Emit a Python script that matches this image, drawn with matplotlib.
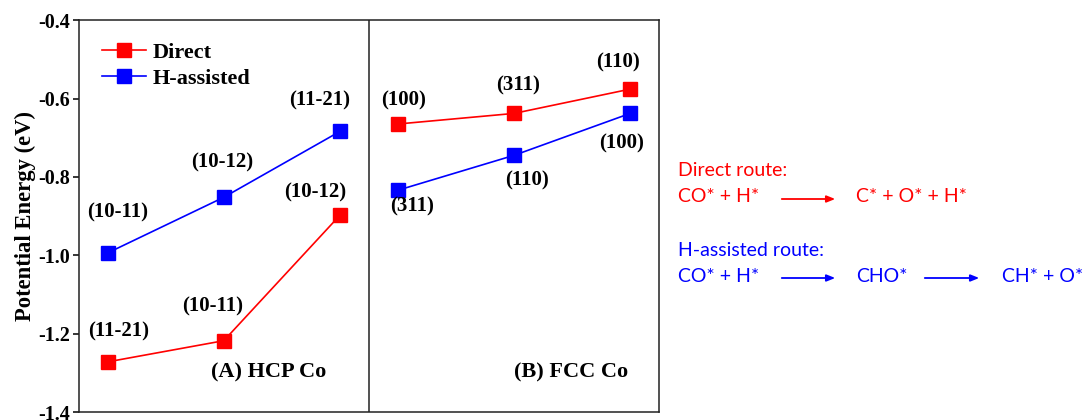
import matplotlib
matplotlib.use("Agg")
import matplotlib.pyplot as plt

# ---------------------------------------------------------------------------
# Data
# ---------------------------------------------------------------------------
hcp_x = [0.25, 1.25, 2.25]
fcc_x = [2.75, 3.75, 4.75]

hcp_direct = [-1.272, -1.218, -0.898]
hcp_hassist = [-0.994, -0.852, -0.684]
fcc_direct = [-0.665, -0.638, -0.576]
fcc_hassist = [-0.834, -0.745, -0.638]

hcp_direct_labels = ["(11-21)", "(10-11)", "(10-12)"]
hcp_hassist_labels = ["(10-11)", "(10-12)", "(11-21)"]
fcc_direct_labels = ["(100)", "(311)", "(110)"]
fcc_hassist_labels = ["(311)", "(110)", "(100)"]

yticks = [-0.4, -0.6, -0.8, -1.0, -1.2, -1.4]

RED = "#ff0000"
BLUE = "#0000ff"
SERIF = ["Liberation Serif", "DejaVu Serif"]

fig = plt.figure(figsize=(10.85, 4.2), dpi=100)
ax = fig.add_axes([0.0725, 0.019, 0.535, 0.933])

ax.plot(hcp_x, hcp_direct, "-s", color=RED, lw=1.2, ms=9.5, label="Direct")
ax.plot(hcp_x, hcp_hassist, "-s", color=BLUE, lw=1.2, ms=9.5, label="H-assisted")
ax.plot(fcc_x, fcc_direct, "-s", color=RED, lw=1.2, ms=9.5)
ax.plot(fcc_x, fcc_hassist, "-s", color=BLUE, lw=1.2, ms=9.5)

ax.axvline(2.5, color="#222222", lw=1.1)

ax.set_xlim(0, 5)
ax.set_ylim(-1.4, -0.4)
ax.set_xticks([])
ax.set_yticks(yticks)
ax.set_yticklabels([f"{v:.1f}" for v in yticks], fontfamily=SERIF,
                   fontweight="bold", fontsize=14.5)
ax.tick_params(axis="y", direction="out", length=4, width=1.1, pad=2)
for sp in ax.spines.values():
    sp.set_linewidth(1.1)
    sp.set_color("#222222")
ax.set_ylabel("Potential Energy (eV)", fontfamily=SERIF, fontweight="bold",
              fontsize=16.3, labelpad=2)

# point labels: (dx, dy) offsets in points
lab_kw = dict(fontfamily=SERIF, fontweight="bold", fontsize=15,
              ha="center", va="center", textcoords="offset points")
hcp_d_off = [(8, 22), (-8, 24.5), (-18, 16.5)]
hcp_h_off = [(7, 29), (-1.5, 25), (-14.5, 22)]
fcc_d_off = [(4, 17), (3, 20), (-9, 19)]
fcc_h_off = [(10, -12), (9, -18), (-6.5, -22)]
for xs, ys, labs, offs in [
    (hcp_x, hcp_direct, hcp_direct_labels, hcp_d_off),
    (hcp_x, hcp_hassist, hcp_hassist_labels, hcp_h_off),
    (fcc_x, fcc_direct, fcc_direct_labels, fcc_d_off),
    (fcc_x, fcc_hassist, fcc_hassist_labels, fcc_h_off),
]:
    for x, y, t, o in zip(xs, ys, labs, offs):
        ax.annotate(t, (x, y), xytext=o, **lab_kw)

ax.text(1.64, -1.298, "(A) HCP Co", fontfamily=SERIF, fontweight="bold",
        fontsize=16, ha="center", va="center")
ax.text(4.24, -1.298, "(B) FCC Co", fontfamily=SERIF, fontweight="bold",
        fontsize=16, ha="center", va="center")

leg = ax.legend(loc="upper left", bbox_to_anchor=(0.005, 0.995), frameon=False,
                prop=dict(family=SERIF, weight="bold", size=16),
                handlelength=2.0, handletextpad=0.3, labelspacing=0.25)

# reaction routes (right side)
sans = ["Lato", "DejaVu Sans"]
fs = 14
def px(x, y):
    return x / 1085, 1 - y / 420

fig.text(*px(678, 170), "Direct route:", color=RED, fontsize=fs,
         fontfamily=sans, va="center")
fig.text(*px(678, 197), "CO* + H*", color=RED, fontsize=fs,
         fontfamily=sans, va="center")
fig.text(*px(856, 197), "C* + O* + H*", color=RED, fontsize=fs,
         fontfamily=sans, va="center")
fig.text(*px(678, 250), "H-assisted route:", color=BLUE, fontsize=fs,
         fontfamily=sans, va="center")
fig.text(*px(678, 276), "CO* + H*", color=BLUE, fontsize=fs,
         fontfamily=sans, va="center")
fig.text(*px(856, 276), "CHO*", color=BLUE, fontsize=fs,
         fontfamily=sans, va="center")
fig.text(*px(1002, 276), "CH* + O*", color=BLUE, fontsize=fs,
         fontfamily=sans, va="center")

arrows = [((779, 199), (838, 199), RED),
          ((779, 278), (838, 278), BLUE),
          ((922, 278), (982, 278), BLUE)]
for (x0, y0), (x1, y1), c in arrows:
    fig.add_artist(matplotlib.patches.FancyArrowPatch(
        px(x0, y0), px(x1, y1), transform=fig.transFigure,
        arrowstyle="-|>,head_length=5,head_width=2", color=c, lw=1.3,
        mutation_scale=1))

fig.savefig("out.png", dpi=100)
